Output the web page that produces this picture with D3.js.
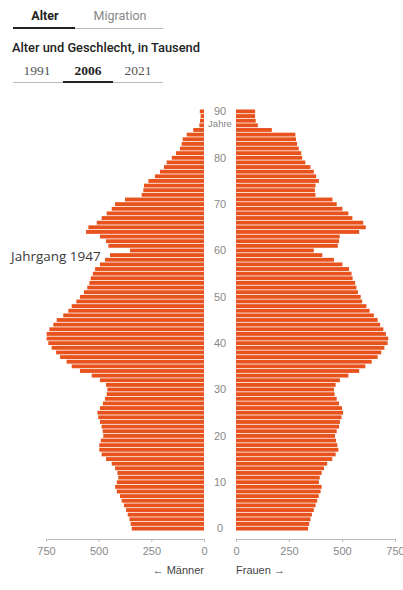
<!DOCTYPE html>
<html>
<head>
<meta charset="utf-8">
<script src="https://cdn.jsdelivr.net/npm/d3@7"></script>
<style>
  html, body { margin: 0; padding: 0; background: #fff; }
  svg { display: block; }
</style>
</head>
<body>
<svg id="chart" width="403" height="590"></svg>
<script>
// Bevölkerung nach Alter und Geschlecht, 2006, in Tausend (Alter 0 … 90)
const ages = d3.range(0, 91);
const maenner = [
  343, 348, 354, 362, 370, 380, 391, 399, 414, 422,
  414, 407, 411, 422, 438, 465, 486, 497, 497, 490,
  478, 481, 486, 494, 502, 506, 494, 480, 470, 462,
  459, 465, 494, 533, 589, 628, 652, 683, 702, 723,
  739, 747, 747, 734, 715, 699, 668, 644, 628, 606,
  589, 570, 554, 544, 538, 528, 517, 494, 470, 446,
  351, 454, 465, 494, 560, 549, 509, 486, 462, 438,
  422, 375, 296, 288, 285, 264, 233, 209, 190, 177,
  153, 133, 114, 106, 101, 82, 51, 22, 19, 16, 20
];
const frauen = [
  340, 345, 351, 358, 367, 375, 383, 390, 399, 404,
  391, 395, 404, 415, 430, 454, 470, 483, 478, 472,
  467, 475, 486, 490, 498, 505, 500, 486, 475, 465,
  462, 470, 490, 530, 581, 610, 640, 668, 685, 700,
  715, 718, 707, 695, 680, 668, 650, 630, 615, 595,
  588, 575, 568, 562, 550, 545, 533, 502, 462, 407,
  367, 480, 486, 489, 581, 612, 600, 549, 530, 502,
  475, 455, 375, 372, 375, 391, 378, 367, 351, 327,
  312, 308, 296, 288, 283, 280, 169, 103, 93, 90, 90
];
const xTicks = [750, 500, 250, 0];
const ageTicks = [0, 10, 20, 30, 40, 50, 60, 70, 80, 90];
const tabs = ["Alter", "Migration"];
const years = ["1991", "2006", "2021"];

const svg = d3.select("#chart");
const barColor = "#e8521c";

// Reiter oben
const tabX = [45, 120];
svg.selectAll("text.tab").data(tabs).join("text")
  .attr("class", "tab")
  .attr("x", (d, i) => tabX[i]).attr("y", 20)
  .attr("text-anchor", "middle")
  .attr("font-family", "Roboto, sans-serif")
  .attr("font-size", 12.5)
  .attr("font-weight", (d, i) => i === 0 ? 700 : 400)
  .attr("fill", (d, i) => i === 0 ? "#222" : "#888")
  .text(d => d);
svg.append("line").attr("x1", 13).attr("x2", 163).attr("y1", 28.5).attr("y2", 28.5)
  .attr("stroke", "#bbb").attr("stroke-width", 1);
svg.append("line").attr("x1", 13).attr("x2", 75).attr("y1", 28).attr("y2", 28)
  .attr("stroke", "#222").attr("stroke-width", 2);

svg.append("text")
  .attr("x", 12).attr("y", 52)
  .attr("font-family", "Roboto, sans-serif")
  .attr("font-size", 12.5).attr("font-weight", 500)
  .attr("fill", "#222")
  .attr("textLength", 188).attr("lengthAdjust", "spacingAndGlyphs")
  .text("Alter und Geschlecht, in Tausend");

const yearX = [37, 88, 138];
svg.selectAll("text.year").data(years).join("text")
  .attr("class", "year")
  .attr("x", (d, i) => yearX[i]).attr("y", 75)
  .attr("text-anchor", "middle")
  .attr("font-family", "'Liberation Serif', serif")
  .attr("font-size", 13.5)
  .attr("font-weight", (d, i) => i === 1 ? 700 : 400)
  .attr("fill", (d, i) => i === 1 ? "#222" : "#555")
  .text(d => d);
svg.append("line").attr("x1", 13).attr("x2", 163).attr("y1", 82.5).attr("y2", 82.5)
  .attr("stroke", "#bbb").attr("stroke-width", 1);
svg.append("line").attr("x1", 63).attr("x2", 113).attr("y1", 82).attr("y2", 82)
  .attr("stroke", "#222").attr("stroke-width", 2);

// Skalen
const y = d3.scaleBand()
  .domain(ages.slice().reverse())
  .range([109.5, 530.5])
  .paddingInner(0.17);
const xL = d3.scaleLinear().domain([0, 750]).range([204, 46]);
const xR = d3.scaleLinear().domain([0, 750]).range([236, 395]);

// Balken Männer (links)
svg.append("g").selectAll("rect").data(ages).join("rect")
  .attr("x", a => xL(maenner[a]))
  .attr("y", a => y(a))
  .attr("width", a => xL(0) - xL(maenner[a]))
  .attr("height", y.bandwidth())
  .attr("fill", barColor);

// Balken Frauen (rechts)
svg.append("g").selectAll("rect").data(ages).join("rect")
  .attr("x", xR(0))
  .attr("y", a => y(a))
  .attr("width", a => xR(frauen[a]) - xR(0))
  .attr("height", y.bandwidth())
  .attr("fill", barColor);

// Altersbeschriftung in der Mitte
const midX = (xL(0) + xR(0)) / 2;
svg.append("g").selectAll("text").data(ageTicks).join("text")
  .attr("x", midX)
  .attr("y", a => y(a) + y.bandwidth() / 2)
  .attr("dy", "0.35em")
  .attr("text-anchor", "middle")
  .attr("font-family", "'Liberation Sans', sans-serif")
  .attr("font-size", 11)
  .attr("fill", "#888")
  .text(a => a);
svg.append("text")
  .attr("x", midX).attr("y", y(90) + y.bandwidth() / 2 + 12)
  .attr("dy", "0.35em")
  .attr("text-anchor", "middle")
  .attr("font-family", "'Liberation Sans', sans-serif")
  .attr("font-size", 9.5)
  .attr("fill", "#888")
  .text("Jahre");

// x-Achsen
function styleAxis(g) {
  g.select(".domain").attr("stroke", "#bbb");
  g.selectAll(".tick line").attr("stroke", "#bbb");
  g.selectAll(".tick text")
    .attr("fill", "#888")
    .attr("font-family", "'Liberation Sans', sans-serif")
    .attr("font-size", 11);
}
const axisY = 539;
svg.append("g").attr("transform", `translate(0,${axisY})`)
  .call(d3.axisBottom(xL).tickValues(xTicks).tickSize(3).tickPadding(5).tickSizeOuter(0))
  .call(styleAxis);
svg.append("g").attr("transform", `translate(0,${axisY})`)
  .call(d3.axisBottom(xR).tickValues(xTicks).tickSize(3).tickPadding(5).tickSizeOuter(0))
  .call(styleAxis);

svg.append("text")
  .attr("x", xL(0)).attr("y", 574)
  .attr("text-anchor", "end")
  .attr("font-family", "'Liberation Sans', sans-serif")
  .attr("font-size", 11).attr("fill", "#444")
  .text("← Männer");
svg.append("text")
  .attr("x", xR(0)).attr("y", 574)
  .attr("text-anchor", "start")
  .attr("font-family", "'Liberation Sans', sans-serif")
  .attr("font-size", 11).attr("fill", "#444")
  .text("Frauen →");

// Annotation
svg.append("text")
  .attr("x", 11).attr("y", 261)
  .attr("font-family", "'Open Sans', sans-serif")
  .attr("font-size", 13.5)
  .attr("fill", "#3a3a3a")
  .text("Jahrgang 1947");
</script>
</body>
</html>
